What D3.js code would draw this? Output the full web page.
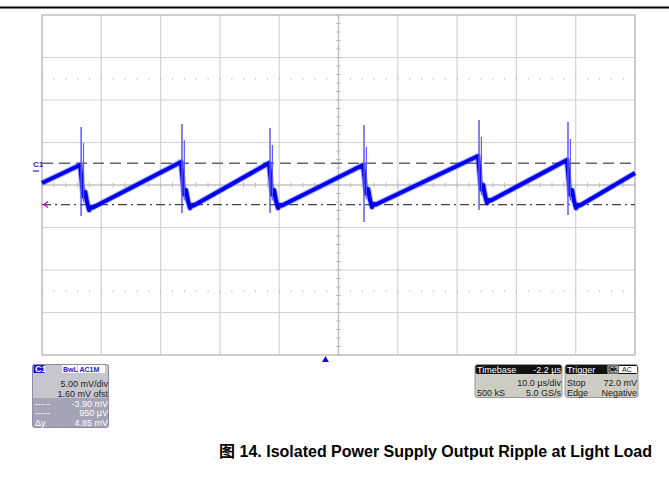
<!DOCTYPE html>
<html>
<head>
<meta charset="utf-8">
<script src="https://cdn.jsdelivr.net/npm/d3@7"></script>
<style>
  body { margin: 0; background: #fff; }
  svg { display: block; }
  .panel text { font-family: "Liberation Sans", Arial, sans-serif; font-size: 9px; }
</style>
</head>
<body>
<div id="scope"></div>
<script>
// scope settings: 10 us/div, delay -2.2 us, 5 mV/div, offset 1.60 mV
var timeRange = [-47.8, 52.2];
var voltRange = [-21.6, 18.4];
var cursorMv = [0.95, -3.90];

// waveform
var traceStart = [-47.8, -1.36];
var traceEnd = [52.2, -0.19];
var spikeTimes = [-41.2, -24.2, -9.35, 6.5, 25.9, 40.9];
var peakMv = [0.75, 1.11, 0.99, 0.75, 1.81, 1.34];
var troughMv = [-4.54, -4.31, -4.31, -4.19, -3.72, -4.31];
var spikeHighMv = [5.22, 5.58, 5.11, 5.46, 6.05, 5.81];
var spikeLowMv = [-5.25, -4.89, -4.89, -5.95, -4.54, -5.13];
var ring2HighMv = [3.34, 3.69, 3.11, 2.87, 4.05, 3.81];
var ringDt = [0.17, 0.35, 0.7, 1.0, 1.35, 1.7, 2.0];
var ringDv = [2.8, 1.6, 2.1, 0.9, 0, 0.35, 0.3];

var c1Rows = ["5.00 mV/div", "1.60 mV ofst", "-3.90 mV", "950 \u00b5V", "4.85 mV"];
var c1Labels = ["", "", "-\u00b7-\u00b7-", "-----", "\u0394y"];

var W = 669, H = 479;
var svg = d3.select("#scope").append("svg").attr("width", W).attr("height", H);

var x = d3.scaleLinear().domain(timeRange).range([42, 635]);
var y = d3.scaleLinear().domain(voltRange).range([355, 15]);

// top rule
svg.append("line").attr("x1", 0).attr("x2", W).attr("y1", 7.5).attr("y2", 7.5)
    .attr("stroke", "#000").attr("stroke-width", 2);

// grid
var g = svg.append("g");
var xDivs = d3.range(11).map(i => timeRange[0] + i * 10);
var yDivs = d3.range(9).map(i => voltRange[0] + i * 5);
g.selectAll(".vx").data(xDivs).enter().append("line")
    .attr("x1", d => x(d)).attr("x2", d => x(d)).attr("y1", y(voltRange[0])).attr("y2", y(voltRange[1]))
    .attr("stroke", "#d2d2d2").attr("stroke-width", 1.2);
g.selectAll(".hy").data(yDivs).enter().append("line")
    .attr("y1", d => y(d)).attr("y2", d => y(d)).attr("x1", x(timeRange[0])).attr("x2", x(timeRange[1]))
    .attr("stroke", "#d2d2d2").attr("stroke-width", 1.2);
g.append("rect").attr("x", x(timeRange[0])).attr("y", y(voltRange[1]))
    .attr("width", x(timeRange[1]) - x(timeRange[0])).attr("height", y(voltRange[0]) - y(voltRange[1]))
    .attr("fill", "none").attr("stroke", "#c4c4c4").attr("stroke-width", 1.5);

// dotted rows
var dotRows = [voltRange[1] - 7.5, voltRange[0] + 7.5];
var dotTimes = d3.range(51).map(i => timeRange[0] + i * 2);
dotRows.forEach(function(v) {
    g.selectAll(null).data(dotTimes).enter().append("rect")
        .attr("x", d => x(d) - 0.5).attr("y", y(v) - 0.5).attr("width", 1.2).attr("height", 1.2)
        .attr("fill", "#b4b4b4");
});

// center cross with minor ticks
var tMid = (timeRange[0] + timeRange[1]) / 2, vMid = (voltRange[0] + voltRange[1]) / 2;
g.append("line").attr("x1", x(tMid)).attr("x2", x(tMid)).attr("y1", y(voltRange[0])).attr("y2", y(voltRange[1]))
    .attr("stroke", "#bdbdbd").attr("stroke-width", 1.2);
g.append("line").attr("y1", y(vMid)).attr("y2", y(vMid)).attr("x1", x(timeRange[0])).attr("x2", x(timeRange[1]))
    .attr("stroke", "#bdbdbd").attr("stroke-width", 1.2);
g.selectAll(null).data(d3.range(41).map(i => voltRange[0] + i)).enter().append("line")
    .attr("x1", x(tMid) - 2.5).attr("x2", x(tMid) + 2.5).attr("y1", d => y(d)).attr("y2", d => y(d))
    .attr("stroke", "#bdbdbd").attr("stroke-width", 1);
g.selectAll(null).data(dotTimes).enter().append("line")
    .attr("y1", y(vMid) - 2.5).attr("y2", y(vMid) + 2.5).attr("x1", d => x(d)).attr("x2", d => x(d))
    .attr("stroke", "#bdbdbd").attr("stroke-width", 1);

// cursors
svg.append("line").attr("x1", x(timeRange[0])).attr("x2", x(timeRange[1]))
    .attr("y1", y(cursorMv[0])).attr("y2", y(cursorMv[0]))
    .attr("stroke", "#666").attr("stroke-width", 1.5).attr("stroke-dasharray", "11,6");
svg.append("line").attr("x1", x(timeRange[0])).attr("x2", x(timeRange[1]))
    .attr("y1", y(cursorMv[1])).attr("y2", y(cursorMv[1]))
    .attr("stroke", "#444").attr("stroke-width", 1.3).attr("stroke-dasharray", "9,4,2,4");

// trace
var pts = [traceStart];
spikeTimes.forEach(function(ts, i) {
    pts.push([ts - 0.17, peakMv[i]]);
    ringDt.forEach(function(dt, j) { pts.push([ts + dt, troughMv[i] + ringDv[j]]); });
});
pts.push(traceEnd);
var line = d3.line().x(d => x(d[0])).y(d => y(d[1]));
svg.append("path").attr("d", line(pts)).attr("fill", "none")
    .attr("stroke", "#4646ff").attr("stroke-width", 6).attr("stroke-opacity", 0.45).attr("stroke-linejoin", "round");
svg.append("path").attr("d", line(pts)).attr("fill", "none")
    .attr("stroke", "#0000f0").attr("stroke-width", 4).attr("stroke-linejoin", "round");

// spikes
svg.selectAll(".spk").data(spikeTimes).enter().append("line")
    .attr("x1", d => x(d)).attr("x2", d => x(d))
    .attr("y1", (d, i) => y(spikeHighMv[i])).attr("y2", (d, i) => y(spikeLowMv[i]))
    .attr("stroke", "#5a5aff").attr("stroke-width", 1.5);
svg.selectAll(".spk2").data(spikeTimes).enter().append("line")
    .attr("x1", d => x(d + 0.4)).attr("x2", d => x(d + 0.4))
    .attr("y1", (d, i) => y(ring2HighMv[i])).attr("y2", (d, i) => y(troughMv[i] + 0.9))
    .attr("stroke", "#5a5aff").attr("stroke-width", 1.2);

// C1 marker and cursor arrow
svg.append("text").attr("x", 33).attr("y", 167).attr("fill", "#2020e0")
    .style("font", "bold 8px 'Liberation Sans', Arial, sans-serif").text("C1");
svg.append("line").attr("x1", 33).attr("x2", 39).attr("y1", 171).attr("y2", 171)
    .attr("stroke", "#2020e0").attr("stroke-width", 1.2);
svg.append("path").attr("d", `M${x(timeRange[0]) + 6},${y(cursorMv[1]) - 3} L${x(timeRange[0]) + 2},${y(cursorMv[1])} L${x(timeRange[0]) + 6},${y(cursorMv[1]) + 3}`)
    .attr("fill", "none").attr("stroke", "#e000e0").attr("stroke-width", 1.3);

// trigger marker
var tx = x(0);
svg.append("path").attr("d", `M${tx - 3.5},362 L${tx + 3.5},362 L${tx},356 Z`).attr("fill", "#1010e0");

// C1 descriptor
var p1 = svg.append("g").attr("class", "panel");
p1.append("rect").attr("x", 32.5).attr("y", 364.5).attr("width", 76).attr("height", 63).attr("rx", 2)
    .attr("fill", "#c6c6cc").attr("stroke", "#8c8ca8");
p1.append("rect").attr("x", 33).attr("y", 398).attr("width", 75).attr("height", 29).attr("fill", "#a4a4b6");
p1.append("rect").attr("x", 33.5).attr("y", 365).attr("width", 11).attr("height", 8).attr("fill", "#1818c8");
p1.append("text").attr("x", 35).attr("y", 372).attr("fill", "#fff").style("font-weight", "bold").text("C1");
p1.append("rect").attr("x", 62).attr("y", 365).attr("width", 15).attr("height", 8).attr("fill", "#fff");
p1.append("rect").attr("x", 78).attr("y", 365).attr("width", 27).attr("height", 8).attr("fill", "#fff");
p1.append("text").attr("x", 63).attr("y", 371.5).attr("fill", "#2020d0").style("font-size", "7px").style("font-weight", "bold").text("BwL");
p1.append("text").attr("x", 79.5).attr("y", 371.5).attr("fill", "#2020d0").style("font-size", "7px").style("font-weight", "bold").text("AC1M");
c1Rows.forEach(function(r, i) {
    p1.append("text").attr("x", 108).attr("y", 387 + i * 9.8).attr("text-anchor", "end")
        .attr("fill", i < 2 ? "#222" : "#fff").text(r);
    if (c1Labels[i]) p1.append("text").attr("x", 35).attr("y", 387 + i * 9.8).attr("fill", "#fff").text(c1Labels[i]);
});

// timebase and trigger descriptors
function panel(x0, w, head, headRight, rows) {
    var p = svg.append("g").attr("class", "panel");
    p.append("rect").attr("x", x0).attr("y", 364.5).attr("width", w).attr("height", 33).attr("rx", 2.5)
        .attr("fill", "#cdcdc4").attr("stroke", "#9a9a94");
    p.append("rect").attr("x", x0 + 0.5).attr("y", 365).attr("width", w - 1).attr("height", 9).attr("rx", 2).attr("fill", "#111");
    p.append("text").attr("x", x0 + 2).attr("y", 372.5).attr("fill", "#fff").text(head);
    if (headRight) p.append("text").attr("x", x0 + w - 1).attr("y", 372.5).attr("text-anchor", "end").attr("fill", "#fff").text(headRight);
    rows.forEach(function(r, i) {
        p.append("text").attr("x", x0 + 2).attr("y", 386 + i * 9.8).attr("fill", "#222").text(r[0]);
        p.append("text").attr("x", x0 + w - 1).attr("y", 386 + i * 9.8).attr("text-anchor", "end").attr("fill", "#222").text(r[1]);
    });
    return p;
}
panel(475, 87, "Timebase", "-2.2 \u00b5s", [["", "10.0 \u00b5s/div"], ["500 kS", "5.0 GS/s"]]);
var tp = panel(565, 73, "Trigger", null, [["Stop", "72.0 mV"], ["Edge", "Negative"]]);
tp.append("rect").attr("x", 608).attr("y", 366).attr("width", 10).attr("height", 7).attr("fill", "#111").attr("stroke", "#fff").attr("stroke-width", 0.8);
tp.append("text").attr("x", 609).attr("y", 372).attr("fill", "#fff").style("font-size", "7px").text("C2");
tp.append("rect").attr("x", 619).attr("y", 366).attr("width", 18).attr("height", 7).attr("fill", "#fff");
tp.append("text").attr("x", 622).attr("y", 372).attr("fill", "#111").style("font-size", "7px").text("AC");

// caption
svg.append("text").attr("x", 652).attr("y", 457).attr("text-anchor", "end")
    .style("font", "bold 16px 'Liberation Sans', Arial, 'Noto Sans CJK SC', sans-serif")
    .text("\u56fe 14. Isolated Power Supply Output Ripple at Light Load");
</script>
</body>
</html>
